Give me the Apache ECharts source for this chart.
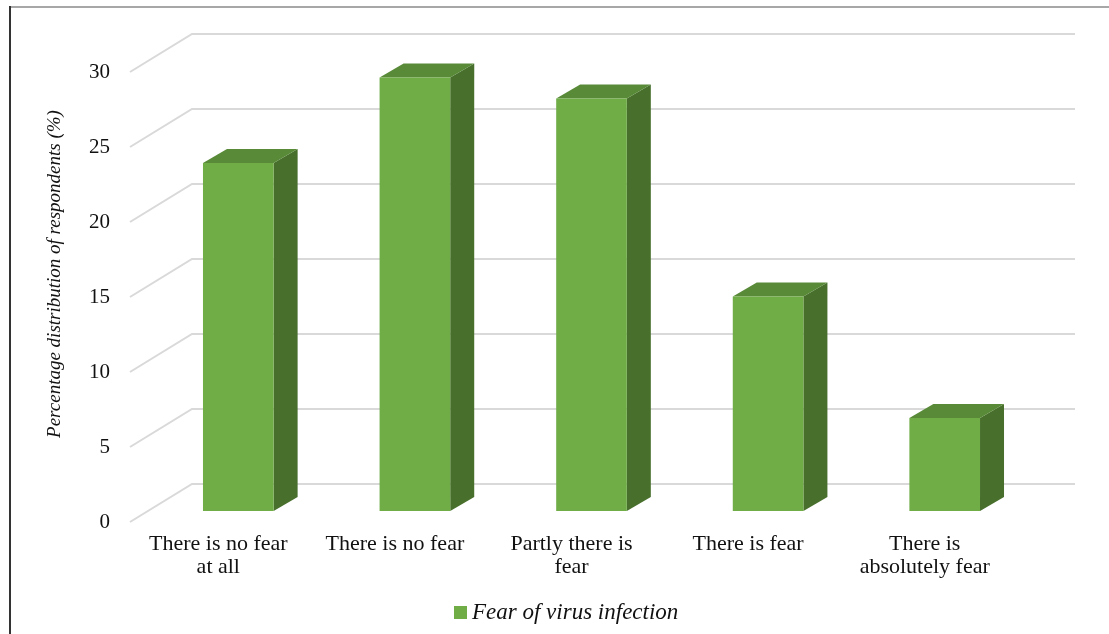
<!DOCTYPE html>
<html>
<head>
<meta charset="utf-8">
<script src="https://cdn.jsdelivr.net/npm/echarts@6/dist/echarts.min.js"></script>
<style>
html,body{margin:0;padding:0;background:#fff;}
#chart{width:1109px;height:634px;}
</style>
</head>
<body>
<div id="chart"></div>
<script>
const categories = ['There is no fear\nat all', 'There is no fear', 'Partly there is\nfear', 'There is fear', 'There is\nabsolutely fear'];
const values = [23.2, 28.9, 27.5, 14.3, 6.2];
const seriesName = 'Fear of virus infection';
const yTicks = [0, 5, 10, 15, 20, 25, 30];
const yTitle = 'Percentage distribution of respondents (%)';

const FONT = "'Liberation Serif','Times New Roman',serif";
// 3D geometry (pixels)
const WALL_DX = 62, WALL_DY = 38;
const BAR_OFF_X = 20, BAR_OFF_Y = 11;
const BAR_DX = 24, BAR_DY = 14;
const FRONT = '#70AD47', TOP = '#588A38', SIDE = '#486F2C';

const chart = echarts.init(document.getElementById('chart'), null, {renderer: 'canvas'});

const option = {
  backgroundColor: '#ffffff',
  animation: false,
  grid: {left: 130, top: 72, width: 883, height: 450, containLabel: false},
  xAxis: {
    type: 'category',
    data: categories,
    axisLine: {show: false},
    axisTick: {show: false},
    splitLine: {show: false},
    axisLabel: {
      interval: 0, margin: 11, color: '#111', fontFamily: FONT, fontSize: 22, lineHeight: 23
    }
  },
  yAxis: {
    type: 'value', min: 0, max: 30, interval: 5,
    axisLine: {show: false}, axisTick: {show: false}, splitLine: {show: false},
    axisLabel: {margin: 20, color: '#111', fontFamily: FONT, fontSize: 21}
  },
  legend: {
    left: 449, top: 596,
    itemWidth: 13, itemHeight: 13, itemGap: 10,
    icon: 'rect',
    textStyle: {fontFamily: FONT, fontSize: 23, fontStyle: 'italic', color: '#111'},
    data: [{name: seriesName, itemStyle: {color: FRONT}}]
  },
  graphic: [
    {type: 'line', shape: {x1: 10, y1: 7, x2: 1109, y2: 7}, style: {stroke: '#8a8a8a', lineWidth: 1.5}, silent: true},
    {type: 'line', shape: {x1: 10, y1: 6, x2: 10, y2: 634}, style: {stroke: '#333', lineWidth: 2}, silent: true},
    {type: 'text', x: 55, y: 274, rotation: Math.PI / 2,
     style: {text: yTitle, fontFamily: FONT, fontSize: 19, fontStyle: 'italic', fill: '#111', align: 'center', verticalAlign: 'middle'}}
  ],
  series: [
    {
      type: 'custom',
      name: 'grid',
      z: 1,
      silent: true,
      data: yTicks.map(v => [0, v]),
      renderItem: function (params, api) {
        const cs = params.coordSys;
        const y = api.coord([0, api.value(1)])[1];
        return {
          type: 'polyline',
          shape: {points: [[cs.x, y], [cs.x + WALL_DX, y - WALL_DY], [cs.x + cs.width + WALL_DX, y - WALL_DY]]},
          style: {stroke: '#d9d9d9', lineWidth: 2, fill: null}
        };
      }
    },
    {
      type: 'custom',
      name: seriesName,
      z: 3,
      itemStyle: {color: FRONT},
      data: values.map((v, i) => [i, v]),
      renderItem: function (params, api) {
        const idx = api.value(0);
        const base = api.coord([idx, 0]);
        const top = api.coord([idx, api.value(1)]);
        const W = api.size([1, 0])[0] * 0.4;
        const x0 = base[0] + BAR_OFF_X - W / 2;
        const yb = base[1] - BAR_OFF_Y;
        const yt = top[1] - BAR_OFF_Y;
        return {
          type: 'group',
          children: [
            {type: 'polygon', shape: {points: [[x0 + W, yt], [x0 + W + BAR_DX, yt - BAR_DY], [x0 + W + BAR_DX, yb - BAR_DY], [x0 + W, yb]]}, style: {fill: SIDE}},
            {type: 'polygon', shape: {points: [[x0, yt], [x0 + BAR_DX, yt - BAR_DY], [x0 + W + BAR_DX, yt - BAR_DY], [x0 + W, yt]]}, style: {fill: TOP}},
            {type: 'rect', shape: {x: x0, y: yt, width: W, height: yb - yt}, style: {fill: FRONT}}
          ]
        };
      }
    }
  ]
};
chart.setOption(option);
</script>
</body>
</html>
